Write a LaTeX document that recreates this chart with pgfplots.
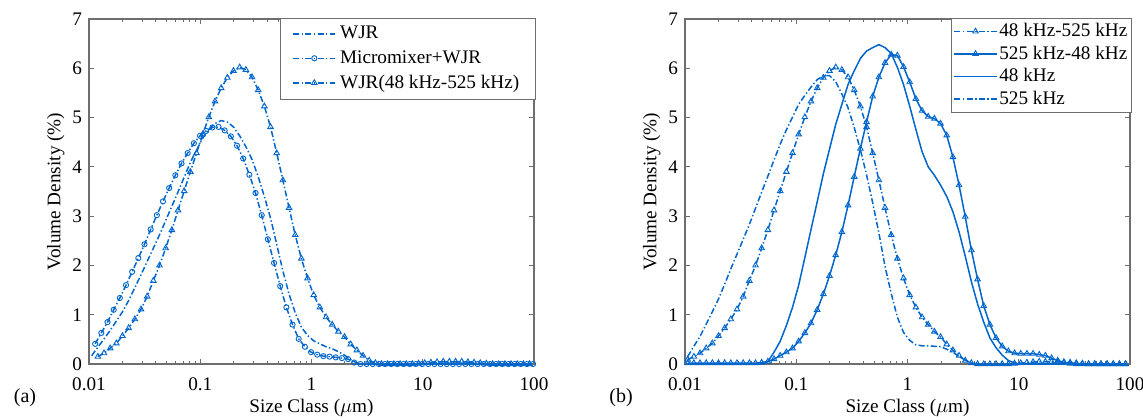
\documentclass[border=0pt]{standalone}
\usepackage{pgfplots}
\pgfplotsset{compat=1.18}
\usepackage{pgfplotstable}
\usepackage{fontspec}
\setmainfont{Liberation Serif}

\definecolor{mblue}{RGB}{0,102,204}
\definecolor{axgray}{RGB}{110,110,110}

% size classes (um) and volume density (%)
\pgfplotstableread{
i x xc wjr mix ta tb k48 k525
0 0.010568 0.011362 0.17 0.41 0.09 0.02 0 0.15
1 0.012008 0.012909 0.34 0.63 0.15 0.02 0 0.36
2 0.013642 0.014666 0.51 0.85 0.22 0.02 0 0.56
3 0.015499 0.016663 0.68 1.10 0.32 0.02 0 0.81
4 0.017609 0.018932 0.87 1.34 0.42 0.02 0 1.06
5 0.020007 0.021509 1.06 1.60 0.57 0.02 0 1.32
6 0.022731 0.024438 1.29 1.87 0.73 0.02 0 1.62
7 0.025826 0.027765 1.55 2.15 0.91 0.02 0 1.93
8 0.029342 0.031545 1.81 2.43 1.11 0.02 0 2.23
9 0.033337 0.035840 2.08 2.73 1.37 0.02 0 2.53
10 0.037876 0.040720 2.35 3.02 1.69 0.02 0 2.83
11 0.043033 0.046264 2.62 3.30 2.00 0.02 0 3.16
12 0.048892 0.052563 2.91 3.57 2.35 0.03 0 3.49
13 0.055549 0.059719 3.20 3.83 2.72 0.05 0.05 3.81
14 0.063111 0.067850 3.49 4.07 3.12 0.10 0.24 4.14
15 0.071704 0.077087 3.79 4.28 3.51 0.17 0.46 4.46
16 0.081466 0.087583 4.09 4.48 3.90 0.24 0.78 4.75
17 0.092558 0.099508 4.34 4.63 4.28 0.32 1.15 5.01
18 0.10516 0.11306 4.58 4.73 4.66 0.46 1.60 5.27
19 0.11948 0.12845 4.76 4.80 5.01 0.63 2.16 5.45
20 0.13575 0.14594 4.88 4.81 5.33 0.83 2.73 5.62
21 0.15423 0.16581 4.94 4.74 5.60 1.10 3.29 5.77
22 0.17523 0.18838 4.91 4.62 5.81 1.42 3.86 5.85
23 0.19908 0.21403 4.81 4.43 5.95 1.79 4.36 5.85
24 0.22619 0.24322 4.63 4.17 6.02 2.21 4.86 5.73
25 0.25704 0.27633 4.41 3.84 5.97 2.68 5.27 5.48
26 0.29203 0.31396 4.15 3.47 5.82 3.22 5.67 5.20
27 0.33179 0.35671 3.80 3.02 5.56 3.80 5.95 4.80
28 0.37697 0.40527 3.40 2.53 5.23 4.37 6.20 4.35
29 0.42829 0.46045 2.96 2.05 4.81 4.91 6.35 3.84
30 0.48660 0.52314 2.43 1.58 4.28 5.43 6.42 3.27
31 0.55285 0.59437 1.89 1.15 3.73 5.82 6.48 2.66
32 0.62813 0.67530 1.42 0.80 3.17 6.11 6.42 1.98
33 0.71366 0.76724 1.04 0.51 2.62 6.28 6.30 1.43
34 0.81082 0.87170 0.75 0.35 2.14 6.26 6.02 0.95
35 0.92121 0.99047 0.58 0.24 1.74 6.03 5.67 0.64
36 1.0467 1.1253 0.47 0.19 1.40 5.72 5.23 0.48
37 1.1892 1.2785 0.41 0.16 1.15 5.38 4.76 0.39
38 1.3511 1.4526 0.35 0.15 0.95 5.14 4.31 0.37
39 1.5351 1.6504 0.31 0.135 0.80 5.02 4.00 0.37
40 1.7441 1.8751 0.25 0.12 0.66 4.98 3.83 0.36
41 1.9816 2.1304 0.18 0.10 0.55 4.88 3.63 0.35
42 2.2514 2.4205 0.09 0.03 0.40 4.64 3.40 0.30
43 2.5580 2.7500 0.02 0 0.28 4.20 3.09 0.24
44 2.9062 3.1245 0 0 0.17 3.63 2.68 0.15
45 3.3020 3.5499 0 0 0.07 2.99 2.19 0.08
46 3.7516 4.0332 0 0 0.02 2.31 1.67 0.02
47 4.2623 4.5823 0 0 0 1.72 1.22 0
48 4.8426 5.2062 0 0 0 1.18 0.85 0
49 5.5019 5.9156 0 0 0 0.80 0.53 0
50 6.2516 6.7210 0 0 0 0.53 0.33 0
51 7.1028 7.6361 0 0 0 0.36 0.18 0
52 8.0698 8.6757 0 0 0 0.26 0.07 0
53 9.1685 9.8574 0 0 0.01 0.22 0.02 0
54 10.417 11.199 0 0 0.02 0.21 0 0
55 11.835 12.724 0 0 0.03 0.21 0 0
56 13.447 14.457 0 0 0.04 0.21 0 0
57 15.278 16.425 0 0 0.05 0.19 0 0
58 17.358 18.662 0 0 0.05 0.17 0 0
59 19.722 21.203 0 0 0.05 0.12 0 0
60 22.407 24.090 0 0 0.05 0.07 0 0
61 25.458 27.370 0 0 0.04 0.03 0 0
62 28.925 31.097 0 0 0.03 0.01 0 0
63 32.863 35.331 0 0 0.02 0 0 0
64 37.338 40.142 0 0 0.01 0 0 0
65 42.422 45.607 0 0 0 0 0 0
66 48.197 51.817 0 0 0 0 0 0
67 54.760 58.872 0 0 0 0 0 0
68 62.216 66.887 0 0 0 0 0 0
69 70.686 75.995 0 0 0 0 0 0
70 80.312 86.342 0 0 0 0 0 0
71 91.247 98.10 0 0 0 0 0 0
}\psdtab

\tikzset{
  myln/.style={mblue, line width=0.75pt},
  mydd/.style={dash pattern=on 3pt off 1.2pt on 0.7pt off 1.2pt},
  mytri/.style={mark=triangle, mark size=1.6pt, mark options={solid, fill=white, line width=0.45pt}},
  mycirc/.style={mark=o, mark size=1.3pt, mark options={solid, fill=white, line width=0.45pt}},
}
\pgfplotsset{
  every axis/.append style={
    scale only axis,
    width=222.5pt, height=172.5pt,
    xmin=0.01, xmax=100, ymin=0, ymax=7,
    xtick={0.01,0.1,1,10,100},
    xticklabels={0.01,0.1,1,10,100},
    minor xtick={0.02,0.03,0.04,0.05,0.06,0.07,0.08,0.09,
                 0.2,0.3,0.4,0.5,0.6,0.7,0.8,0.9,
                 2,3,4,5,6,7,8,9,20,30,40,50,60,70,80,90},
    ytick={0,1,2,3,4,5,6,7},
    tick align=inside,
    major tick length=2.5pt, minor tick length=1.5pt,
    axis line style={axgray, line width=0.6pt},
    every tick/.style={axgray, line width=0.5pt},
    tick label style={font=\fontsize{9.6}{11}\selectfont, black},
    xticklabel style={yshift=-3.5pt},
    label style={font=\fontsize{9.6}{11}\selectfont},
    xlabel style={yshift=3pt},
    ylabel shift=-3pt,
    /pgf/number format/assume math mode=true,
    xlabel={Size Class ($\mu$m)},
    ylabel={Volume Density (\%)},
    legend cell align=left,
    legend style={at={(1.004,1.004)}, anchor=north east, draw=axgray,
      line width=0.5pt, font=\fontsize{9.6}{10}\selectfont,
      inner xsep=2pt, inner ysep=1pt, row sep=0pt,
      nodes={inner ysep=1.55pt}},
    legend image code/.code={\draw[mark repeat=2,mark phase=2,#1]
      plot coordinates {(0cm,0cm) (0.37cm,0cm) (0.74cm,0cm)};},
  },
}

\begin{document}
\begin{tikzpicture}
\path[use as bounding box] (0,0) rectangle (571.5pt,209.5pt);

\begin{semilogxaxis}[at={(44.5pt,27.5pt)}, anchor=south west,
    legend style={inner xsep=6pt, inner ysep=2.5pt, row sep=1.2pt}]
  \addplot[myln, mydd] table[x=x, y=wjr] {\psdtab};
  \addlegendentry{WJR}
  \addplot[myln, mydd, mycirc] table[x=xc, y=mix] {\psdtab};
  \addlegendentry{Micromixer+WJR}
  \addplot[myln, mydd, mytri, skip coords between index={0}{1}] table[x=x, y=ta] {\psdtab};
  \addlegendentry{WJR(48 kHz-525 kHz)}
\end{semilogxaxis}

\begin{semilogxaxis}[at={(342.5pt,27.5pt)}, anchor=south west,
    legend style={inner xsep=1pt, nodes={inner xsep=1pt}}]
  \addplot[myln, mydd, mytri] table[x=x, y=ta] {\psdtab};
  \addlegendentry{48 kHz-525 kHz}
  \addplot[myln, mytri] table[x=x, y=tb] {\psdtab};
  \addlegendentry{525 kHz-48 kHz}
  \addplot[myln] table[x=x, y=k48] {\psdtab};
  \addlegendentry{48 kHz}
  \addplot[myln, mydd] table[x=x, y=k525] {\psdtab};
  \addlegendentry{525 kHz}
\end{semilogxaxis}

\node[font=\fontsize{10}{12}\selectfont] at (12.5pt,10.5pt) {(a)};
\node[font=\fontsize{10}{12}\selectfont] at (310.5pt,10.5pt) {(b)};
\end{tikzpicture}
\end{document}
